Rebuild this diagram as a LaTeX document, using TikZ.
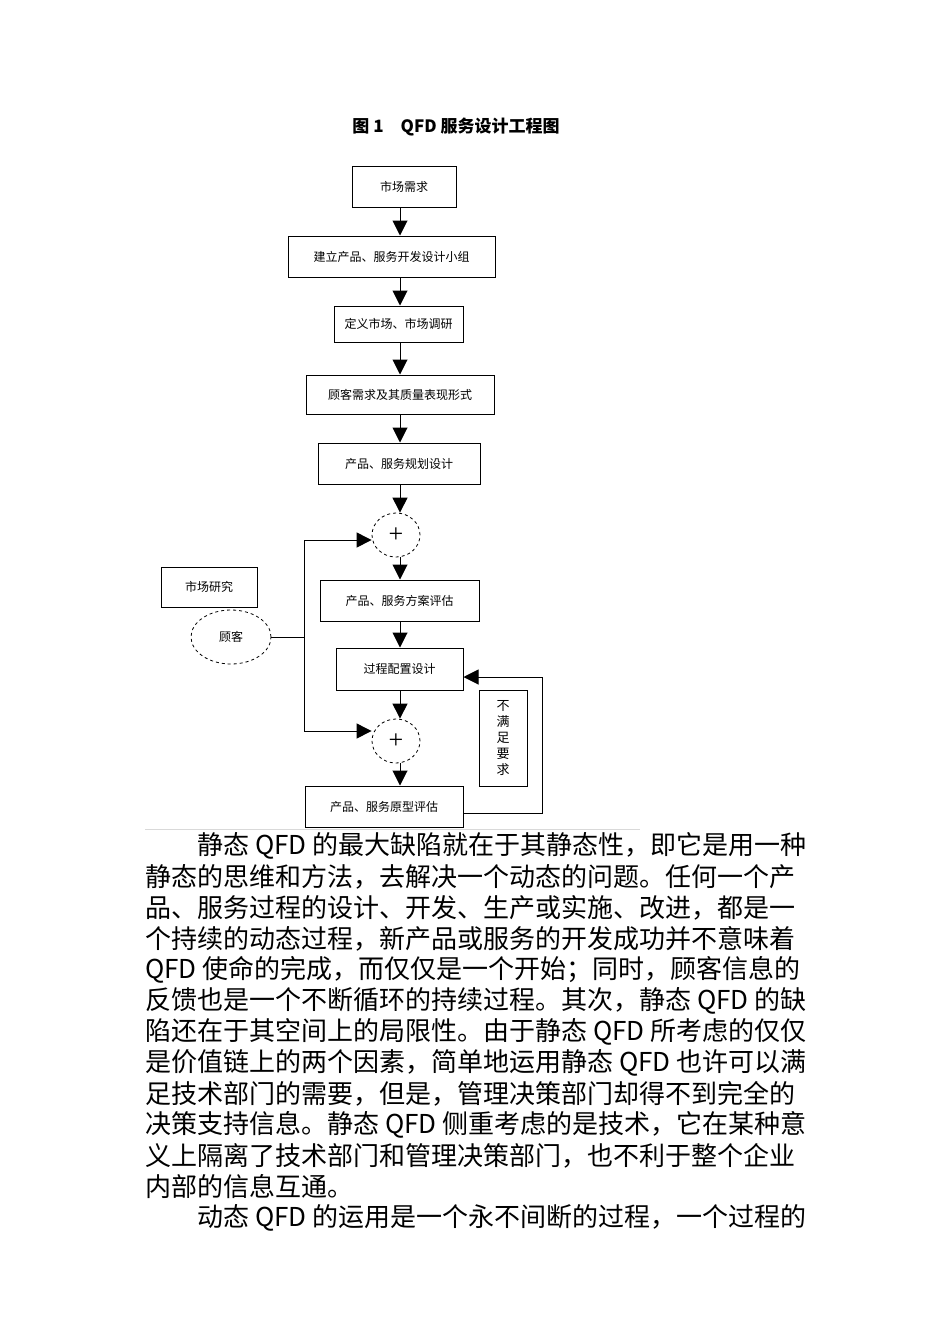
\documentclass[tikz,border=0pt]{standalone}
\usepackage{fontspec}
\setmainfont{Liberation Serif}
\newfontfamily\cjk{Noto Sans CJK SC}
\usetikzlibrary{arrows.meta,shapes.geometric}
\begin{document}
\begin{tikzpicture}[x=1pt,y=-1pt,
 bx/.style={draw,line width=1pt,inner sep=0pt,font=\cjk\fontsize{12}{14}\selectfont},
 ar/.style={line width=1pt,-{Triangle[width=15pt,length=15pt]}},
 ln/.style={line width=1pt},
 para/.style={anchor=west,inner sep=0pt,font=\cjk\fontsize{26}{30}\selectfont}]
\useasboundingbox (0,0) rectangle (950,1344);
\node[font=\cjk\bfseries\fontsize{17}{20}\selectfont] (t) at (456,127) {图 1\quad QFD 服务设计工程图};
\coordinate (ax) at (400,0);
\node[bx,minimum width=104pt,minimum height=41pt] (a) at (404,187) {市场需求};
\node[bx,minimum width=207pt,minimum height=41pt] (b) at (391.5,256.5) {建立产品、服务开发设计小组};
\node[bx,minimum width=129pt,minimum height=36pt] (c) at (398.5,324) {定义市场、市场调研};
\node[bx,minimum width=188pt,minimum height=39pt] (d) at (400,394.5) {顾客需求及其质量表现形式};
\node[bx,minimum width=162pt,minimum height=41pt] (e) at (399,463.5) {产品、服务规划设计};
\node[draw,ellipse,dashed,line width=0.8pt,minimum width=48pt,minimum height=44pt,font=\fontsize{26}{26}\selectfont] (p1) at (396,535) {+};
\node[bx,minimum width=96pt,minimum height=40pt] (m) at (209,587) {市场研究};
\node[draw,ellipse,dashed,line width=0.8pt,minimum width=80pt,minimum height=54pt,font=\cjk\fontsize{12}{14}\selectfont] (g) at (231,637) {顾客};
\node[bx,minimum width=159pt,minimum height=41pt] (f) at (399.5,600.5) {产品、服务方案评估};
\node[bx,minimum width=127pt,minimum height=42pt] (h) at (399.5,669) {过程配置设计};
\node[draw,ellipse,dashed,line width=0.8pt,minimum width=48pt,minimum height=44pt,font=\fontsize{26}{26}\selectfont] (p2) at (396,741) {+};
\node[bx,minimum width=158pt,minimum height=41pt] (k) at (384,806.5) {产品、服务原型评估};
\node[bx,minimum width=48pt,minimum height=96pt,align=center,font=\cjk\fontsize{13}{16}\selectfont] (n) at (503,738) {不\\满\\足\\要\\求};
\coordinate (j) at (304,637);
\coordinate (fr) at (542,813);
\coordinate (fu) at (542,677);
\draw[ar] (a.south -| ax) -- (b.north -| ax);
\draw[ar] (b.south -| ax) -- (c.north -| ax);
\draw[ar] (c.south -| ax) -- (d.north -| ax);
\draw[ar] (d.south -| ax) -- (e.north -| ax);
\draw[ar] (e.south -| ax) -- (p1.north -| ax);
\draw[ar] (p1.south -| ax) -- (f.north -| ax);
\draw[ar] (f.south -| ax) -- (h.north -| ax);
\draw[ar] (h.south -| ax) -- (p2.north -| ax);
\draw[ar] (p2.south -| ax) -- (k.north -| ax);
\draw[ln] (g) -- (j);
\draw[ar] (j) |- (p1.west |- 0,540);
\draw[ar] (j) |- (p2.west |- 0,731);
\draw[ln] (k.east |- fr) -- (fr) -- (fu);
\draw[ar] (fu) -- (h.east |- fu);
\draw[gray!30,line width=0.6pt] (145,829) -- (640,829);
\node[para] (l1) at (197,846) {静态 QFD 的最大缺陷就在于其静态性，即它是用一种};
\node[para] (l2) at (145,877) {静态的思维和方法，去解决一个动态的问题。任何一个产};
\node[para] (l3) at (145,908) {品、服务过程的设计、开发、生产或实施、改进，都是一};
\node[para] (l4) at (145,939) {个持续的动态过程，新产品或服务的开发成功并不意味着};
\node[para] (l5) at (145,970) {QFD 使命的完成，而仅仅是一个开始；同时，顾客信息的};
\node[para] (l6) at (145,1001) {反馈也是一个不断循环的持续过程。其次，静态 QFD 的缺};
\node[para] (l7) at (145,1032) {陷还在于其空间上的局限性。由于静态 QFD 所考虑的仅仅};
\node[para] (l8) at (145,1063) {是价值链上的两个因素，简单地运用静态 QFD 也许可以满};
\node[para] (l9) at (145,1094) {足技术部门的需要，但是，管理决策部门却得不到完全的};
\node[para] (l10) at (145,1125) {决策支持信息。静态 QFD 侧重考虑的是技术，它在某种意};
\node[para] (l11) at (145,1156) {义上隔离了技术部门和管理决策部门，也不利于整个企业};
\node[para] (l12) at (145,1187) {内部的信息互通。};
\node[para] (l13) at (197,1218) {动态 QFD 的运用是一个永不间断的过程，一个过程的};
\end{tikzpicture}
\end{document}
